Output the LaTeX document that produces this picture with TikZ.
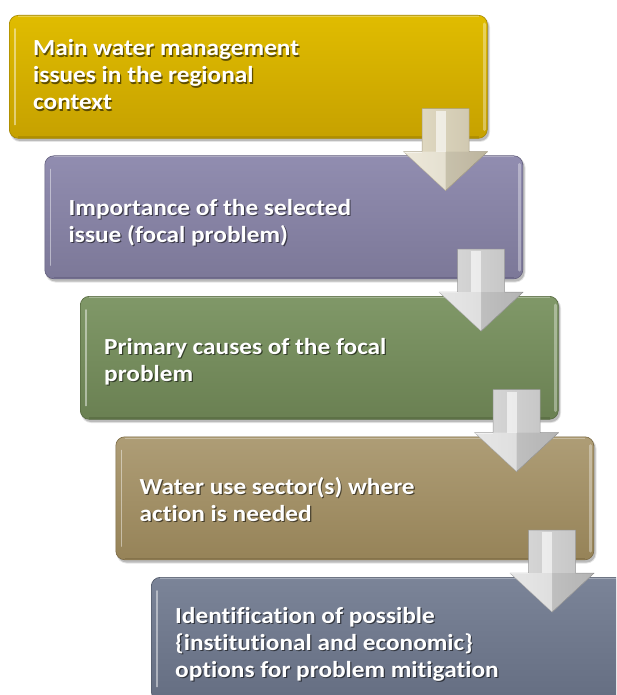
\documentclass[tikz,border=0pt]{standalone}
\usepackage{fontspec}
\setmainfont{Carlito}[FakeStretch=1.1, Ligatures=NoCommon]
\usetikzlibrary{calc}

% box palette: light top, dark bottom, outline
\definecolor{yelT}{HTML}{E0BC00}\definecolor{yelB}{HTML}{C6A100}\definecolor{yelE}{HTML}{A38500}
\definecolor{purT}{HTML}{918DB0}\definecolor{purB}{HTML}{7C7898}\definecolor{purE}{HTML}{625E7C}
\definecolor{grnT}{HTML}{809868}\definecolor{grnB}{HTML}{6A8052}\definecolor{grnE}{HTML}{55683F}
\definecolor{tanT}{HTML}{AE9D76}\definecolor{tanB}{HTML}{968358}\definecolor{tanE}{HTML}{7A6943}
\definecolor{sltT}{HTML}{7B8498}\definecolor{sltB}{HTML}{656E82}\definecolor{sltE}{HTML}{4F5767}
% arrow palette
\definecolor{crmL}{HTML}{E4DDC6}\definecolor{crmM}{HTML}{FBF9F1}\definecolor{crmR}{HTML}{CBC3AB}\definecolor{crmE}{HTML}{A9A189}
\definecolor{gryL}{HTML}{DADADA}\definecolor{gryM}{HTML}{F9F9F9}\definecolor{gryR}{HTML}{C2C2C2}\definecolor{gryE}{HTML}{999999}

\tikzset{
  stepbox/.style={rounded corners=9pt, minimum width=478pt, minimum height=123pt,
    anchor=north west, inner sep=0pt, line width=0.6pt},
  steptext/.style={anchor=base west, inner sep=0pt, text=white,
    font=\fontsize{23pt}{27pt}\selectfont\bfseries},
  stepshadow/.style={steptext, text=black, opacity=0.55},
}

% a shaded, bevelled step box
\newcommand\stepbox[6]{%
  \fill[black, opacity=0.10, rounded corners=10pt] ($(#2)+(1,2)$) rectangle ++(480,125);
  \fill[black, opacity=0.18, rounded corners=9pt] ($(#2)+(2,3)$) rectangle ++(478,123);
  \node[stepbox, draw=#6, top color=#4, bottom color=#5] (#1) at (#2) {};
  \draw[white, opacity=0.35, line width=3pt, line cap=round]
    ($(#1.north east)+(-3.5,9)$) -- ($(#1.south east)+(-3.5,-9)$);
  \draw[white, opacity=0.45, line width=1.6pt, line cap=round]
    ($(#1.north west)+(6,14)$) -- ($(#1.south west)+(6,-14)$);
  \draw[white, opacity=0.30, line width=1pt]
    ($(#1.north west)+(9,1.5)$) -- ($(#1.north east)+(-9,1.5)$);
  \draw[#6, opacity=0.6, line width=1.6pt]
    ($(#1.south west)+(9,-1.5)$) -- ($(#1.south east)+(-9,-1.5)$);
}

% one line of box text with its dark drop shadow
\newcommand\steptextline[3]{%
  \node[stepshadow] (#1s) at ($(#2)+(1.2,1.2)$) {#3};
  \node[steptext] (#1) at (#2) {#3};
}

% a bevelled block arrow whose shaft starts at coordinate #1
\newcommand\blockarrow[5]{%
  \path[left color=#2, middle color=#3, right color=#4, draw=#5, line width=0.5pt, line join=round]
    (#1) ++(-23.5,0) -- ++(0,43) -- ++(-18.5,0) -- ++(42,39) -- ++(42,-39)
    -- ++(-18.5,0) -- ++(0,-43) -- cycle;
  \fill[black, opacity=0.07] (#1) ++(0,43) -- ++(42,0) -- ++(-42,39) -- cycle;
  \fill[white, opacity=0.35] (#1) ++(0,43) -- ++(-42,0) -- ++(42,39) -- cycle;
  \fill[white, opacity=0.6] (#1) ++(-10,2) rectangle ++(10,41);
  \draw[white, opacity=0.5, line width=1pt] (#1) ++(-42,43.5) -- ++(18.5,0);
}

\begin{document}
\begin{tikzpicture}[x=1pt, y=-1pt]
  \useasboundingbox (0,0) rectangle (616,695);
  \clip (0,0) rectangle (616,695);
  \fill[white] (0,0) rectangle (616,695);

  % the five steps
  \stepbox{b1}{9,15}{yelT}{yelT}{yelB}{yelE}
  \stepbox{b2}{44.5,155.5}{purT}{purT}{purB}{purE}
  \stepbox{b3}{80,296}{grnT}{grnT}{grnB}{grnE}
  \stepbox{b4}{115.5,436.5}{tanT}{tanT}{tanB}{tanE}
  \stepbox{b5}{151,577}{sltT}{sltT}{sltB}{sltE}

  % texts
  \steptextline{t1a}{$(b1.north west)+(24,41)$}{Main water management}
  \steptextline{t1b}{$(b1.north west)+(24,68)$}{issues in the regional}
  \steptextline{t1c}{$(b1.north west)+(24,95)$}{context}

  \steptextline{t2a}{$(b2.north west)+(24,60)$}{Importance of the selected}
  \steptextline{t2b}{$(b2.north west)+(24,87)$}{issue (focal problem)}

  \steptextline{t3a}{$(b3.north west)+(24,58)$}{Primary causes of the focal}
  \steptextline{t3b}{$(b3.north west)+(24,85)$}{problem}

  \steptextline{t4a}{$(b4.north west)+(24,58)$}{Water use sector(s) where}
  \steptextline{t4b}{$(b4.north west)+(24,85)$}{action is needed}

  \steptextline{t5a}{$(b5.north west)+(24,46)$}{Identification of possible}
  \steptextline{t5b}{$(b5.north west)+(24,73)$}{\{institutional and economic\}}
  \steptextline{t5c}{$(b5.north west)+(24,100)$}{options for problem mitigation}

  % block arrows from each step down to the next
  \coordinate (a1) at ($(b1.south east)+(-42,-30)$);
  \coordinate (a2) at ($(b2.south east)+(-42,-30)$);
  \coordinate (a3) at ($(b3.south east)+(-42,-30)$);
  \coordinate (a4) at ($(b4.south east)+(-42,-30)$);
  \blockarrow{a1}{crmL}{crmM}{crmR}{crmE}
  \blockarrow{a2}{gryL}{gryM}{gryR}{gryE}
  \blockarrow{a3}{gryL}{gryM}{gryR}{gryE}
  \blockarrow{a4}{gryL}{gryM}{gryR}{gryE}
\end{tikzpicture}
\end{document}
